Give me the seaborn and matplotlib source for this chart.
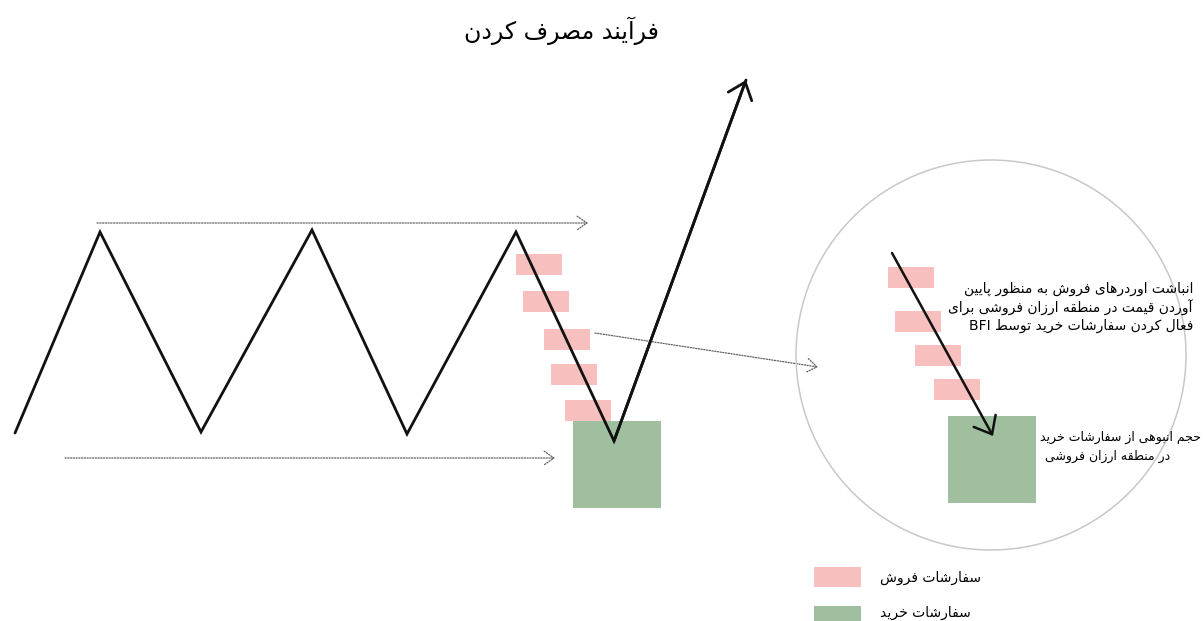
import re
import matplotlib
matplotlib.use("Agg")
import matplotlib.pyplot as plt
from matplotlib.patches import Rectangle, Circle
import seaborn as sns

# ---- diagram data (pixel coordinates of the reference picture) ----
title = "فرآیند مصرف کردن"

# price path: range highs/lows, sweep down into the buy zone, then rally
path_x = [15, 100, 201, 312, 407, 516, 614, 746]
path_y = [433, 232, 432, 230, 434, 232, 441, 80]

# sell orders stacked along the drop (left), and the zoomed view (right)
sell_left_x = [516, 523, 544, 551, 565]
sell_left_y = [254, 291, 329, 364, 400]
sell_right_x = [888, 895, 915, 934]
sell_right_y = [267, 311, 345, 379]
buy_left = (573, 421)
buy_right = (948, 416)

note_sell = ["انباشت اوردرهای فروش به منظور پایین",
             "آوردن قیمت در منطقه ارزان فروشی برای",
             "فعال کردن سفارشات خرید توسط BFI"]
note_buy = ["حجم انبوهی از سفارشات خرید",
            "در منطقه ارزان فروشی"]
legend_labels = ["سفارشات فروش", "سفارشات خرید"]

PINK = "#f7bfbd"
GREEN = "#9fbf9f"

# ---- tiny persian shaper (matplotlib has no RTL / joining support) ----
FORMS = {
    "\u0627": (0xFE8D, 0xFE8E), "\u0622": (0xFE81, 0xFE82),
    "\u0628": (0xFE8F, 0xFE90, 0xFE91, 0xFE92), "\u067E": (0xFB56, 0xFB57, 0xFB58, 0xFB59),
    "\u062A": (0xFE95, 0xFE96, 0xFE97, 0xFE98), "\u062C": (0xFE9D, 0xFE9E, 0xFE9F, 0xFEA0),
    "\u062D": (0xFEA1, 0xFEA2, 0xFEA3, 0xFEA4), "\u062E": (0xFEA5, 0xFEA6, 0xFEA7, 0xFEA8),
    "\u062F": (0xFEA9, 0xFEAA), "\u0631": (0xFEAD, 0xFEAE), "\u0632": (0xFEAF, 0xFEB0),
    "\u0633": (0xFEB1, 0xFEB2, 0xFEB3, 0xFEB4), "\u0634": (0xFEB5, 0xFEB6, 0xFEB7, 0xFEB8),
    "\u0635": (0xFEB9, 0xFEBA, 0xFEBB, 0xFEBC), "\u0637": (0xFEC1, 0xFEC2, 0xFEC3, 0xFEC4),
    "\u0638": (0xFEC5, 0xFEC6, 0xFEC7, 0xFEC8), "\u0639": (0xFEC9, 0xFECA, 0xFECB, 0xFECC),
    "\u0641": (0xFED1, 0xFED2, 0xFED3, 0xFED4), "\u0642": (0xFED5, 0xFED6, 0xFED7, 0xFED8),
    "\u06A9": (0xFB8E, 0xFB8F, 0xFB90, 0xFB91), "\u0644": (0xFEDD, 0xFEDE, 0xFEDF, 0xFEE0),
    "\u0645": (0xFEE1, 0xFEE2, 0xFEE3, 0xFEE4), "\u0646": (0xFEE5, 0xFEE6, 0xFEE7, 0xFEE8),
    "\u0647": (0xFEE9, 0xFEEA, 0xFEEB, 0xFEEC), "\u0648": (0xFEED, 0xFEEE),
    "\u06CC": (0xFBFC, 0xFBFD, 0xFBFE, 0xFBFF),
}


def fa(text):
    text = text.replace("\u064A", "\u06CC").replace("\u0643", "\u06A9")
    out = []
    for i, c in enumerate(text):
        f = FORMS.get(c)
        if f is None:
            out.append(c)
            continue
        prev = text[i - 1] if i > 0 else ""
        nxt = text[i + 1] if i + 1 < len(text) else ""
        jp = prev in FORMS and len(FORMS[prev]) == 4
        jn = len(f) == 4 and nxt in FORMS
        k = 3 if (jp and jn) else 1 if jp else 2 if jn else 0
        out.append(chr(f[k]))
    vis = "".join(out)[::-1]
    return re.sub(r"[A-Za-z0-9]+", lambda m: m.group(0)[::-1], vis)


sns.set_theme(style="white")
plt.rcParams["font.family"] = ["DejaVu Sans"]

fig = plt.figure(figsize=(12.03, 6.21), dpi=100)
ax = fig.add_axes([0, 0, 1, 1])
ax.set_xlim(0, 1203)
ax.set_ylim(621, 0)
ax.axis("off")

# boxes
for x, y in zip(sell_left_x, sell_left_y):
    ax.add_patch(Rectangle((x, y), 46, 21, color=PINK, lw=0, zorder=1))
for x, y in zip(sell_right_x, sell_right_y):
    ax.add_patch(Rectangle((x, y), 46, 21, color=PINK, lw=0, zorder=1))
ax.add_patch(Rectangle(buy_left, 88, 87, color=GREEN, lw=0, zorder=1))
ax.add_patch(Rectangle(buy_right, 88, 87, color=GREEN, lw=0, zorder=1))

# price path
sns.lineplot(x=path_x, y=path_y, sort=False, estimator=None, color="#111111",
             lw=2, ax=ax, zorder=3)
for ln in ax.lines:
    ln.set_solid_joinstyle("miter")
head = "->,head_length=0.55,head_width=0.45"
ax.annotate("", xy=(path_x[-1], path_y[-1]), xytext=(path_x[-2], path_y[-2]),
            arrowprops=dict(arrowstyle=head, color="#111111",
                            lw=2, shrinkA=0, shrinkB=0, mutation_scale=20), zorder=3)

# zoomed arrow
ax.annotate("", xy=(993, 436), xytext=(892, 253),
            arrowprops=dict(arrowstyle=head, color="#111111",
                            lw=1.8, shrinkA=0, shrinkB=0, mutation_scale=20), zorder=3)

# dotted guides
dot = dict(arrowstyle="->,head_length=0.5,head_width=0.35", color="#606060", lw=0.9,
           linestyle=(0, (1, 1.2)), shrinkA=0, shrinkB=0, mutation_scale=14)
ax.annotate("", xy=(588, 223), xytext=(97, 223), arrowprops=dot, zorder=2)
ax.annotate("", xy=(555, 458), xytext=(65, 458), arrowprops=dot, zorder=2)
ax.annotate("", xy=(818, 367), xytext=(595, 333), arrowprops=dot, zorder=2)

# magnifier circle
ax.add_patch(Circle((991, 355), 195, fill=False, ec="#c8c8c8", lw=1.1, zorder=2))

# texts
ax.text(561, 31, fa(title), ha="center", va="center", fontsize=17, color="black")
for i, line in enumerate(note_sell):
    ax.text(1193, 289 + i * 18.5, fa(line), ha="right", va="center", fontsize=10,
            color="black", zorder=4)
ax.text(1201, 437, fa(note_buy[0]), ha="right", va="center", fontsize=9, color="black")
ax.text(1045, 456, fa(note_buy[1]), ha="left", va="center", fontsize=9, color="black")

# legend
ax.add_patch(Rectangle((814, 567), 47, 20, color=PINK, lw=0))
ax.add_patch(Rectangle((814, 606), 47, 20, color=GREEN, lw=0))
ax.text(880, 578, fa(legend_labels[0]), ha="left", va="center", fontsize=10, color="black")
ax.text(880, 613, fa(legend_labels[1]), ha="left", va="center", fontsize=10, color="black")

fig.savefig("out.png", dpi=100)
